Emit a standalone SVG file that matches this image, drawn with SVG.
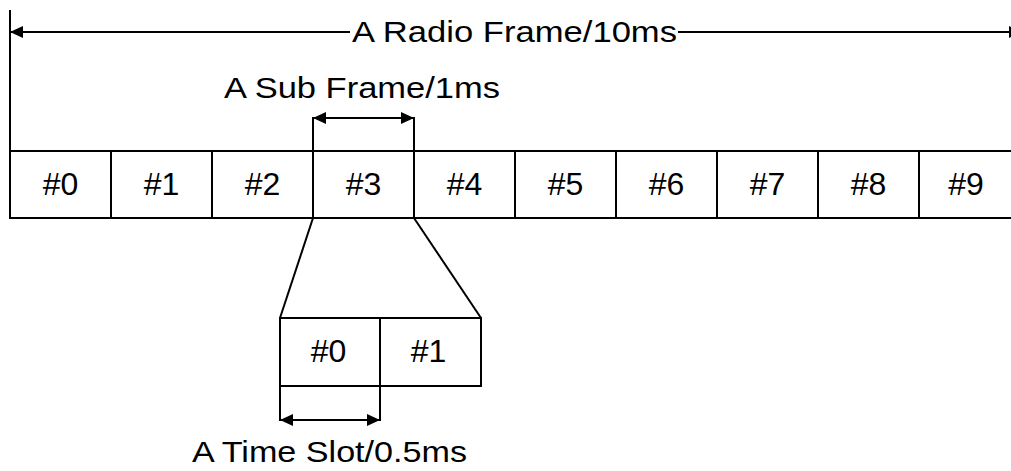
<svg xmlns="http://www.w3.org/2000/svg" width="1011" height="471" viewBox="0 0 1011 471">
<style>
.ln{stroke:#000;stroke-width:2;fill:none}
.cell{stroke:#000;stroke-width:2;fill:#fff}
.lbl{font-family:"Liberation Sans",Arial,sans-serif;font-size:32px;fill:#000;text-anchor:middle}
.cap{font-family:"Liberation Sans",Arial,sans-serif;font-size:30px;fill:#000}
</style>
<defs>
<marker id="ah" markerUnits="userSpaceOnUse" markerWidth="16" markerHeight="14" refX="13" refY="6" orient="auto-start-reverse">
<path d="M0,0 L13,6 L0,12 Z" fill="#000"/>
</marker>
</defs>
<rect width="1011" height="471" fill="#fff"/>
<g id="frame">
<g id="sf0"><rect class="cell" x="10" y="151" width="101" height="67"/><text class="lbl" x="60.5" y="195">#0</text></g>
<g id="sf1"><rect class="cell" x="111" y="151" width="101" height="67"/><text class="lbl" x="161.5" y="195">#1</text></g>
<g id="sf2"><rect class="cell" x="212" y="151" width="101" height="67"/><text class="lbl" x="262.5" y="195">#2</text></g>
<g id="sf3"><rect class="cell" x="313" y="151" width="101" height="67"/><text class="lbl" x="363.5" y="195">#3</text></g>
<g id="sf4"><rect class="cell" x="414" y="151" width="101" height="67"/><text class="lbl" x="464.5" y="195">#4</text></g>
<g id="sf5"><rect class="cell" x="515" y="151" width="101" height="67"/><text class="lbl" x="565.5" y="195">#5</text></g>
<g id="sf6"><rect class="cell" x="616" y="151" width="101" height="67"/><text class="lbl" x="666.5" y="195">#6</text></g>
<g id="sf7"><rect class="cell" x="717" y="151" width="101" height="67"/><text class="lbl" x="767.5" y="195">#7</text></g>
<g id="sf8"><rect class="cell" x="818" y="151" width="101" height="67"/><text class="lbl" x="868.5" y="195">#8</text></g>
<g id="sf9"><rect class="cell" x="919" y="151" width="101" height="67"/><text class="lbl" x="966" y="195">#9</text></g>
</g>
<g id="slots">
<g id="ts0"><rect class="cell" x="280" y="318" width="100" height="68"/><text class="lbl" x="328.5" y="362">#0</text></g>
<g id="ts1"><rect class="cell" x="380" y="318" width="101" height="68"/><text class="lbl" x="428.5" y="362">#1</text></g>
</g>
<g id="connectors">
<line class="ln" x1="10" y1="10" x2="10" y2="151"/>
<line class="ln" x1="350" y1="32" x2="10" y2="32" marker-end="url(#ah)"/>
<line class="ln" x1="678" y1="32" x2="1022" y2="32" marker-end="url(#ah)"/>
<line class="ln" x1="313" y1="117" x2="313" y2="151"/>
<line class="ln" x1="414" y1="117" x2="414" y2="151"/>
<line class="ln" x1="313" y1="118" x2="414" y2="118" marker-start="url(#ah)" marker-end="url(#ah)"/>
<line class="ln" x1="313" y1="218" x2="280" y2="318"/>
<line class="ln" x1="414" y1="218" x2="481" y2="318"/>
<line class="ln" x1="280" y1="386" x2="280" y2="421"/>
<line class="ln" x1="380" y1="386" x2="380" y2="421"/>
<line class="ln" x1="280" y1="420" x2="380" y2="420" marker-start="url(#ah)" marker-end="url(#ah)"/>
</g>
<g id="captions">
<text class="cap" x="352" y="42" textLength="325" lengthAdjust="spacingAndGlyphs">A Radio Frame/10ms</text>
<text class="cap" x="224" y="98" textLength="276" lengthAdjust="spacingAndGlyphs">A Sub Frame/1ms</text>
<text class="cap" x="192" y="462" textLength="275" lengthAdjust="spacingAndGlyphs">A Time Slot/0.5ms</text>
</g>
</svg>
